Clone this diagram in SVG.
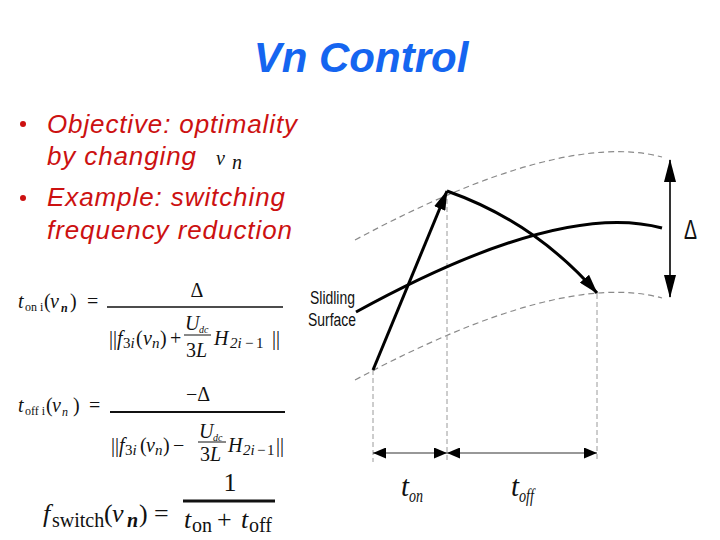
<svg xmlns="http://www.w3.org/2000/svg" width="720" height="540" viewBox="0 0 720 540">
<defs>
<style>
.title{font-family:"Liberation Sans",Arial,sans-serif;font-weight:bold;font-style:italic;font-size:42px;fill:#1565f0}
.bul{font-family:"Liberation Sans",Arial,sans-serif;font-style:italic;font-size:26px;fill:#cc1111}
.dot{fill:#cc1111}
.m{font-family:"Liberation Serif","Times New Roman",serif;font-size:20px;fill:#111}
.mb{font-size:26px}
.i{font-style:italic}
.s{font-size:12px}
.ss{font-size:15px}
.dc{font-size:10px;font-style:italic}
.dash{fill:none;stroke:#8a8a8a;stroke-width:1.2;stroke-dasharray:6 4}
.vd{stroke:#9a9a9a;stroke-width:1;stroke-dasharray:5 3}
.bold{fill:none;stroke:#000;stroke-width:3}
.dim{stroke:#333;stroke-width:1.2}
.lbl{font-family:"Liberation Sans",Arial,sans-serif;font-size:18px;fill:#111}
.tl{font-family:"Liberation Serif","Times New Roman",serif;font-style:italic;fill:#111}
.bar{stroke:#111}
</style>
<marker id="ah" viewBox="0 0 20 12" refX="19" refY="6" markerWidth="20" markerHeight="12" markerUnits="userSpaceOnUse" orient="auto-start-reverse"><path d="M0,0 L20,6 L0,12 z" fill="#000"/></marker>
<marker id="ahd" viewBox="0 0 23 12" refX="22" refY="6" markerWidth="23" markerHeight="12" markerUnits="userSpaceOnUse" orient="auto-start-reverse"><path d="M0,0 L23,6 L0,12 z" fill="#000"/></marker>
<marker id="ahs" viewBox="0 0 13 11" refX="13" refY="5.5" markerWidth="13" markerHeight="11" markerUnits="userSpaceOnUse" orient="auto-start-reverse"><path d="M0,0 L13,5.5 L0,11 z" fill="#000"/></marker>
</defs>
<rect width="720" height="540" fill="#fff"/>

<g id="title">
<text class="title" x="361" y="72" text-anchor="middle">Vn Control</text>
</g>

<g id="bullets">
<circle class="dot" cx="23" cy="124" r="3"/>
<circle class="dot" cx="23" cy="198" r="3"/>
<text class="bul" x="47" y="133" textLength="250" lengthAdjust="spacing">Objective: optimality</text>
<text class="bul" x="47" y="165" textLength="149" lengthAdjust="spacing">by changing</text>
<text class="m i" x="216" y="165" font-size="29" fill="#555">v</text>
<text class="m i" x="232" y="169" font-size="17" fill="#555">n</text>
<text class="bul" x="47" y="206" textLength="238" lengthAdjust="spacing">Example: switching</text>
<text class="bul" x="47" y="239" textLength="245" lengthAdjust="spacing">frequency reduction</text>
</g>

<g id="formula-ton">
<text class="m i" x="18" y="308">t</text>
<text class="m s" x="25" y="311">on i</text>
<text class="m" x="44" y="308">(</text>
<text class="m i" x="50" y="308">v</text>
<text class="m s i" x="61" y="312" font-weight="bold">n</text>
<text class="m" x="70" y="308">)</text>
<text class="m" x="87" y="308">=</text>
<text class="m" x="197" y="297" text-anchor="middle" font-size="21">Δ</text>
<line class="bar" x1="107" y1="307" x2="283" y2="307" stroke-width="1.3"/>
<text class="m" x="109" y="345">||</text>
<text class="m i" x="117" y="345">f</text>
<text class="m ss" x="123" y="348">3<tspan class="i">i</tspan></text>
<text class="m" x="136" y="345">(</text>
<text class="m i" x="143" y="345">v</text>
<text class="m ss i" x="152" y="348">n</text>
<text class="m" x="160" y="345">)</text>
<text class="m" x="170" y="345">+</text>
<text class="m i" x="185" y="330">U</text>
<text class="m dc" x="199" y="333">dc</text>
<line class="bar" x1="184" y1="335" x2="211" y2="335" stroke-width="1"/>
<text class="m" x="186" y="357">3<tspan class="i">L</tspan></text>
<text class="m i" x="214" y="345">H</text>
<text class="m ss i" x="230" y="348">2i</text>
<text class="m ss" x="245" y="348">−</text>
<text class="m ss" x="256" y="348">1</text>
<text class="m" x="272" y="345">||</text>
</g>

<g id="formula-toff">
<text class="m i" x="18" y="412">t</text>
<text class="m s" x="25" y="415">off i</text>
<text class="m" x="46" y="412">(</text>
<text class="m i" x="52" y="412">v</text>
<text class="m s i" x="62" y="416">n</text>
<text class="m" x="73" y="412">)</text>
<text class="m" x="89" y="412">=</text>
<text class="m" x="198" y="401" text-anchor="middle" font-size="21">−Δ</text>
<line class="bar" x1="110" y1="412" x2="285" y2="412" stroke-width="2"/>
<text class="m" x="111" y="452">||</text>
<text class="m i" x="119" y="452">f</text>
<text class="m ss" x="125" y="455">3<tspan class="i">i</tspan></text>
<text class="m" x="140" y="452">(</text>
<text class="m i" x="146" y="452">v</text>
<text class="m ss i" x="155" y="455">n</text>
<text class="m" x="163" y="452">)</text>
<text class="m" x="173" y="452">−</text>
<text class="m i" x="199" y="438">U</text>
<text class="m dc" x="213" y="441">dc</text>
<line class="bar" x1="198" y1="442" x2="226" y2="442" stroke-width="1"/>
<text class="m" x="200" y="461">3<tspan class="i">L</tspan></text>
<text class="m i" x="228" y="452">H</text>
<text class="m ss i" x="243" y="455">2i</text>
<text class="m ss" x="257" y="455">−</text>
<text class="m ss" x="267" y="455">1</text>
<text class="m" x="276" y="452">||</text>
</g>

<g id="formula-fswitch">
<text class="m mb i" x="43" y="522">f</text>
<text class="m" x="52" y="527" font-size="16">switch</text>
<text class="m mb" x="104" y="522">(</text>
<text class="m mb i" x="112" y="522">v</text>
<text class="m i" x="127" y="527" font-size="17" font-weight="bold">n</text>
<text class="m mb" x="139" y="522">)</text>
<text class="m mb" x="154" y="522">=</text>
<text class="m mb" x="230" y="491" text-anchor="middle">1</text>
<line class="bar" x1="183" y1="501" x2="275" y2="501" stroke-width="3"/>
<text class="m mb i" x="184" y="528">t</text>
<text class="m" x="192" y="532" font-size="17">on</text>
<text class="m mb" x="217" y="528">+</text>
<text class="m mb i" x="241" y="528">t</text>
<text class="m" x="249" y="532" font-size="17">off</text>
</g>

<g id="bounds">
<path class="dash" d="M355,240 Q560,130 662,157"/>
<path class="dash" d="M355,380 Q560,270 662,298"/>
<line class="vd" x1="373" y1="370" x2="373" y2="462"/>
<line class="vd" x1="447" y1="191" x2="447" y2="462"/>
<line class="vd" x1="597" y1="294" x2="597" y2="462"/>
</g>

<g id="sliding-surface">
<path class="bold" d="M356,312 Q560,200 662,228"/>
<text class="lbl" x="310" y="304" textLength="45" lengthAdjust="spacingAndGlyphs">Slidling</text>
<text class="lbl" x="308" y="326" textLength="48" lengthAdjust="spacingAndGlyphs">Surface</text>
</g>

<g id="connectors">
<line class="bold" x1="373" y1="370" x2="447" y2="191" stroke-width="2.5" marker-end="url(#ah)"/>
<path class="bold" d="M447,191 Q535,222 597,293" stroke-width="2.5" marker-end="url(#ah)"/>
<line x1="670" y1="160" x2="670" y2="297" stroke="#333" stroke-width="2" marker-start="url(#ahd)" marker-end="url(#ahd)"/>
<line class="dim" x1="373" y1="453" x2="447" y2="453" marker-start="url(#ahs)" marker-end="url(#ahs)"/>
<line class="dim" x1="447" y1="453" x2="597" y2="453" marker-start="url(#ahs)" marker-end="url(#ahs)"/>
</g>

<g id="labels">
<text x="684" y="239" font-family="'Liberation Sans',Arial,sans-serif" font-size="27" fill="#111" textLength="13" lengthAdjust="spacingAndGlyphs">Δ</text>
<text class="tl" x="401" y="496" font-size="30" textLength="8" lengthAdjust="spacingAndGlyphs">t</text>
<text class="tl" x="409" y="502" font-size="18" textLength="14" lengthAdjust="spacingAndGlyphs">on</text>
<text class="tl" x="511" y="496" font-size="30" textLength="8" lengthAdjust="spacingAndGlyphs">t</text>
<text class="tl" x="519" y="502" font-size="18" textLength="15" lengthAdjust="spacingAndGlyphs">off</text>
</g>
</svg>
